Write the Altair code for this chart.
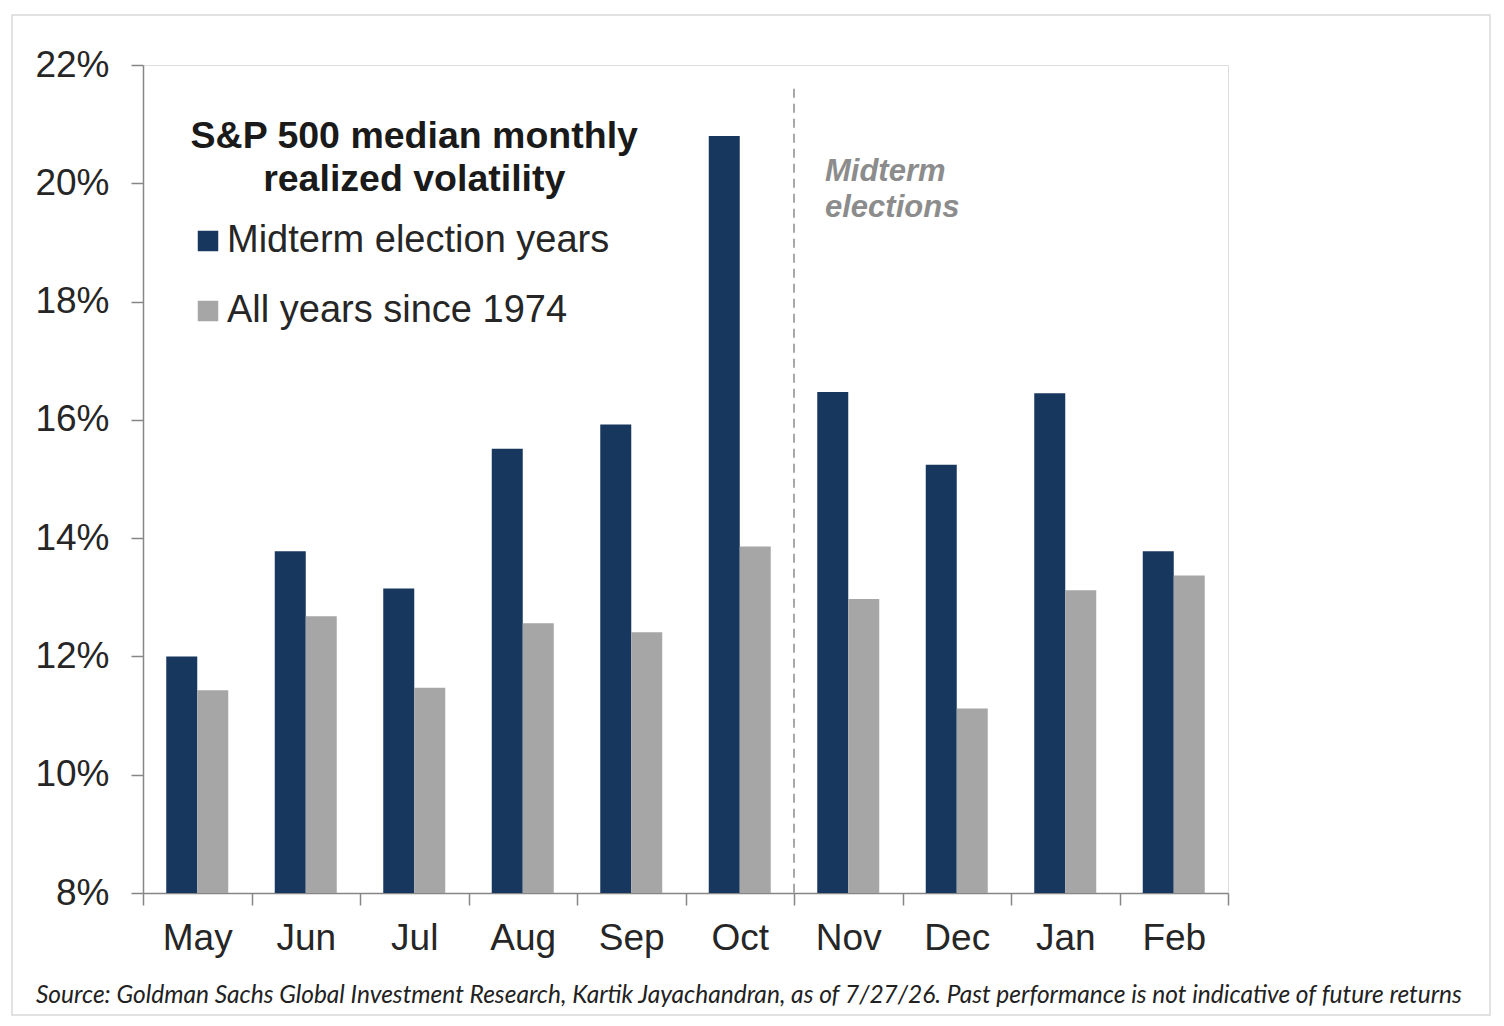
import altair as alt
import pandas as pd

months = ["May", "Jun", "Jul", "Aug", "Sep", "Oct", "Nov", "Dec", "Jan", "Feb"]
midterm_vol = [12.0, 13.78, 13.15, 15.51, 15.92, 20.8, 16.47, 15.24, 16.45, 13.78]
all_years_vol = [11.43, 12.68, 11.47, 12.56, 12.41, 13.86, 12.97, 11.12, 13.12, 13.37]
series_names = ["Midterm election years", "All years since 1974"]
series_colors = ["#17375E", "#A6A6A6"]
y_ticks = [8, 10, 12, 14, 16, 18, 20, 22]

title_text = ["S&P 500 median monthly", "realized volatility"]
note_text = ["Midterm", "elections"]
source_text = ("Source: Goldman Sachs Global Investment Research, Kartik Jayachandran, "
               "as of 7/27/26. Past performance is not indicative of future returns")

rows = []
for m, a, b in zip(months, midterm_vol, all_years_vol):
    rows.append({"month": m, "series": series_names[0], "vol": a})
    rows.append({"month": m, "series": series_names[1], "vol": b})
df = pd.DataFrame(rows)

FONT = "Liberation Sans"
AXIS_GREY = "#868686"

x_scale = alt.Scale(domain=months, paddingInner=0, paddingOuter=0)
y_scale = alt.Scale(domain=[8, 22], nice=False, zero=False)

x_axis = alt.Axis(
    title=None, labelAngle=0, labelFont=FONT, labelFontSize=37, labelColor="#262626",
    labelPadding=15, tickBand="extent", tickSize=12, tickColor=AXIS_GREY,
    domainColor=AXIS_GREY, domainWidth=1.5, tickWidth=1.5, grid=False,
)
y_axis = alt.Axis(
    title=None, values=y_ticks, labelExpr="datum.value + '%'", labelFont=FONT,
    labelFontSize=37, labelColor="#262626", labelPadding=22, tickSize=12,
    tickColor=AXIS_GREY, domainColor=AXIS_GREY, domainWidth=1.5, tickWidth=1.5, grid=False,
)

bars = alt.Chart(df).mark_bar().encode(
    x=alt.X("month:N", sort=months, scale=x_scale, axis=x_axis),
    xOffset=alt.XOffset("series:N", sort=series_names,
                        scale=alt.Scale(domain=series_names, paddingInner=0, paddingOuter=0.75)),
    y=alt.Y("vol:Q", scale=y_scale, axis=y_axis),
    y2=alt.datum(8),
    color=alt.Color(
        "series:N", sort=series_names,
        scale=alt.Scale(domain=series_names, range=series_colors),
        legend=alt.Legend(
            title=None, orient="none", legendX=46, legendY=157, padding=0,
            symbolType="square", symbolSize=420, symbolStrokeWidth=0, symbolOpacity=1,
            labelFont=FONT, labelFontSize=38, labelColor="#262626", labelOffset=0,
            rowPadding=32, labelLimit=600,
        ),
    ),
)

rule_df = pd.DataFrame({"month": ["Nov"], "top": [21.6], "bottom": [8]})
divider = alt.Chart(rule_df).mark_rule(color="#8C8C8C", strokeDash=[9, 6], strokeWidth=1.5).encode(
    x=alt.X("month:N", sort=months, scale=x_scale, bandPosition=0),
    y=alt.Y("top:Q", scale=y_scale),
    y2="bottom:Q",
)

title_df = pd.DataFrame({"month": ["Jul"], "y": [20.79], "t": [title_text]})
title_mark = alt.Chart(title_df).mark_text(
    font=FONT, fontSize=37.5, fontWeight="bold", color="#1A1A1A", align="center",
    baseline="middle", lineHeight=43,
).encode(
    x=alt.X("month:N", sort=months, scale=x_scale),
    y=alt.Y("y:Q", scale=y_scale),
    text="t",
)

note_df = pd.DataFrame({"month": ["Nov"], "y": [20.19], "t": [note_text]})
note_mark = alt.Chart(note_df).mark_text(
    font=FONT, fontSize=31, fontWeight="bold", fontStyle="italic", color="#8C8C8C",
    align="left", baseline="middle", lineHeight=36, dx=31,
).encode(
    x=alt.X("month:N", sort=months, scale=x_scale, bandPosition=0),
    y=alt.Y("y:Q", scale=y_scale),
    text="t",
)

source_df = pd.DataFrame({"t": [source_text]})
source_mark = alt.Chart(source_df).mark_text(
    font="Lato", fontSize=24.5, fontStyle="italic", color="#222222",
    align="left", baseline="middle",
).encode(
    x=alt.value(-107), y=alt.value(931), text="t:N",
)

frame = alt.Chart(pd.DataFrame({"k": [0]})).mark_rect(
    fillOpacity=0, stroke="#D9D9D9", strokeWidth=1.5, clip=False,
).encode(
    x=alt.value(-131), x2=alt.value(1347), y=alt.value(-50), y2=alt.value(950),
)

chart = alt.layer(frame, bars, divider, title_mark, note_mark, source_mark).properties(
    width=1085,
    height=828,
    autosize=alt.AutoSizeParams(type="none"),
    padding={"left": 135, "top": 57, "right": 268, "bottom": 127},
).configure_view(
    stroke="#A0A0A0", strokeWidth=1.5,
).configure(background="white")

chart.save("out.html", embed_options={"renderer": "svg", "actions": False})
